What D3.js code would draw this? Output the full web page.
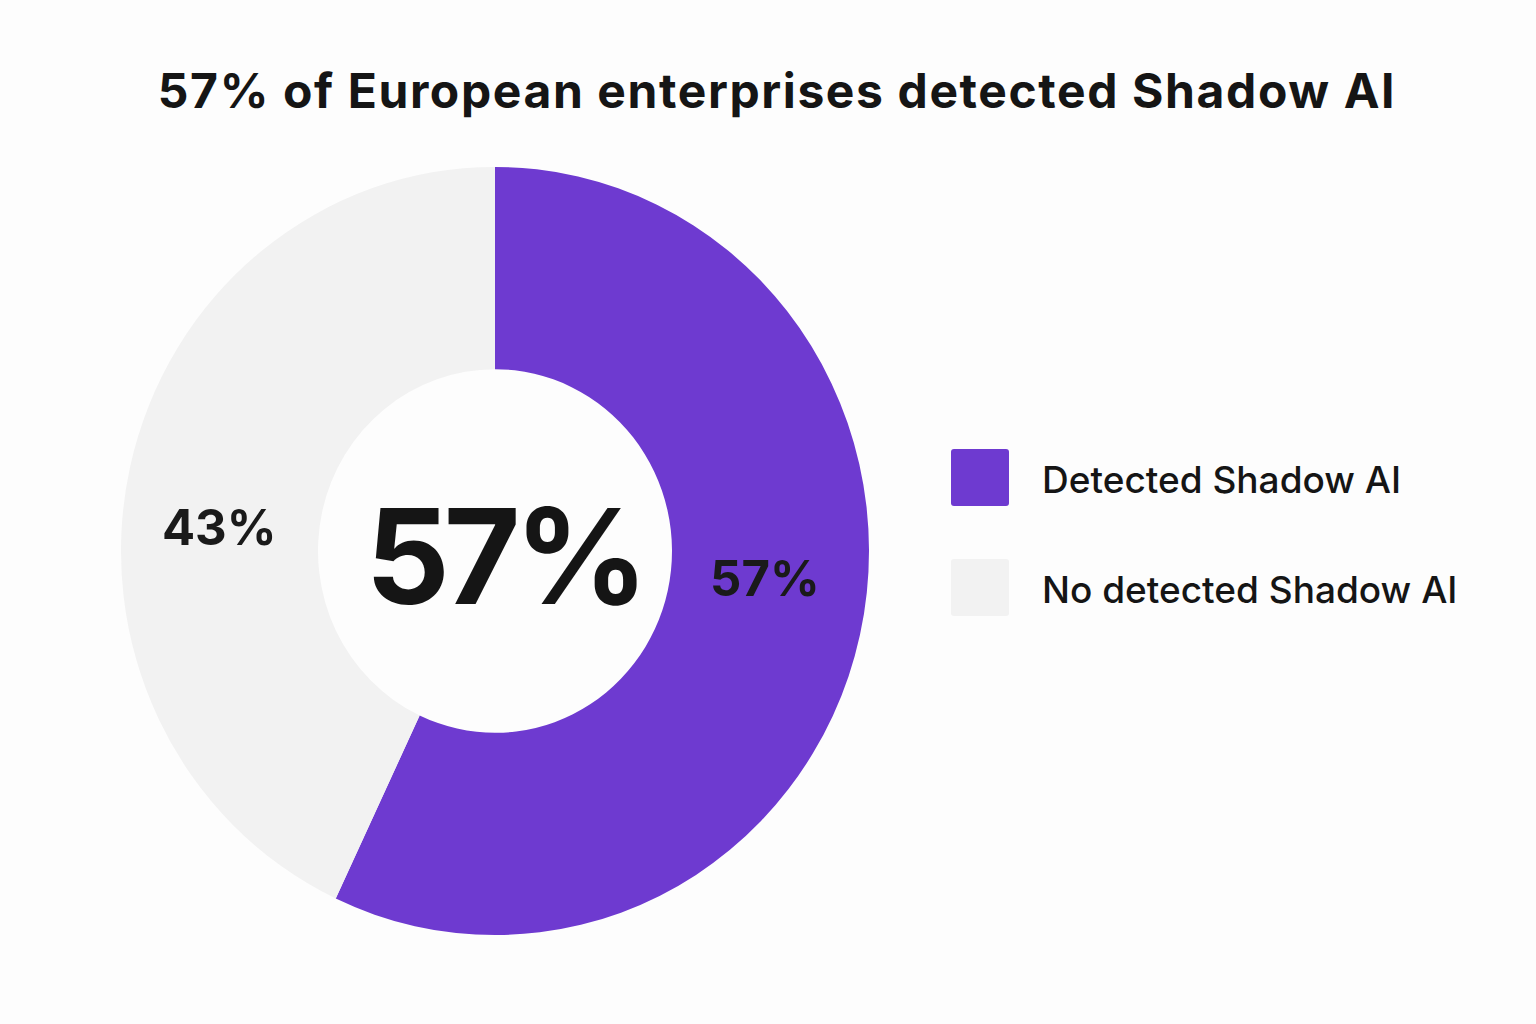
<!DOCTYPE html>
<html>
<head>
<meta charset="utf-8">
<script src="https://cdn.jsdelivr.net/npm/d3@7"></script>
<style>
  html, body { margin: 0; padding: 0; background: #fdfdfd; }
  svg { display: block; font-family: Inter, "Noto Sans", sans-serif; }
</style>
</head>
<body>
<svg id="chart"></svg>
<script>
// Data
const categories = ['Detected Shadow AI', 'No detected Shadow AI'];
const values = [57, 43];
const colors = ['#6e3ad0', '#f2f2f2'];
const title = '57% of European enterprises detected Shadow AI';
const centerLabel = '57%';

const width = 1536, height = 1024;
const cx = 495, cy = 551;
const outerR = 374, innerR = 177;
const yStretch = 1.027; // reference donut is a touch taller than wide

const svg = d3.select('#chart')
    .attr('width', width)
    .attr('height', height);

svg.append('rect')
    .attr('width', width)
    .attr('height', height)
    .attr('fill', '#fdfdfd');

// Title
svg.append('text')
    .attr('x', 777)
    .attr('y', 108)
    .attr('text-anchor', 'middle')
    .attr('font-size', 48)
    .attr('font-weight', 700)
    .attr('letter-spacing', 1.6)
    .attr('fill', '#151515')
    .text(title);

const color = d3.scaleOrdinal()
    .domain(categories)
    .range(colors);

const pie = d3.pie()
    .sort(null)
    .value(d => d.value);

const arc = d3.arc()
    .innerRadius(innerR)
    .outerRadius(outerR);

const data = categories.map((c, i) => ({name: c, value: values[i]}));

const chart = svg.append('g')
    .attr('transform', `translate(${cx},${cy})`);

const arcs = pie(data);

chart.append('g')
    .attr('transform', `scale(1,${yStretch})`)
  .selectAll('.slice')
    .data(arcs)
  .join('path')
    .attr('class', 'slice')
    .attr('d', arc)
    .attr('fill', d => color(d.data.name));

// Slice labels (centroid x, pulled towards the horizontal middle)
chart.selectAll('.slice-label')
    .data(arcs)
  .join('text')
    .attr('class', 'slice-label')
    .attr('x', d => {
      const x = arc.centroid(d)[0];
      return x + (x < 0 ? -7 : 1);
    })
    .attr('y', d => arc.centroid(d)[1] * 0.42 + 2)
    .attr('dy', '0.36em')
    .attr('text-anchor', 'middle')
    .attr('font-size', 49)
    .attr('font-weight', 700)
    .attr('fill', '#1a1a1a')
    .text(d => d.data.value + '%');

// Center label
chart.append('text')
    .attr('x', 9)
    .attr('y', 53)
    .attr('text-anchor', 'middle')
    .attr('font-size', 132)
    .attr('font-weight', 700)
    .attr('letter-spacing', -6)
    .attr('fill', '#151515')
    .text(centerLabel);

// Legend
const legend = svg.append('g')
    .attr('transform', 'translate(951,449)');

const item = legend.selectAll('.legend-item')
    .data(categories)
  .join('g')
    .attr('class', 'legend-item')
    .attr('transform', (d, i) => `translate(0,${i * 110})`);

item.append('rect')
    .attr('width', 58)
    .attr('height', 57)
    .attr('rx', 3)
    .attr('fill', d => color(d));

item.append('text')
    .attr('x', 91)
    .attr('y', 44)
    .attr('font-size', 37)
    .attr('font-weight', 500)
    .attr('fill', '#151515')
    .text(d => d);
</script>
</body>
</html>
